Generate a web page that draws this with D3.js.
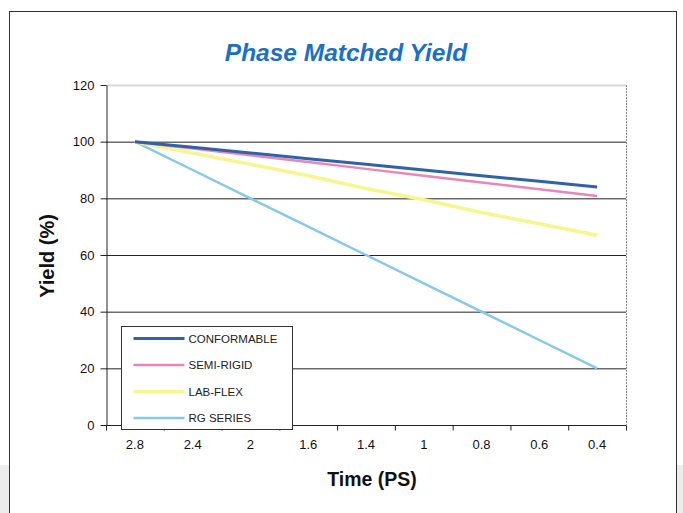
<!DOCTYPE html>
<html>
<head>
<meta charset="utf-8">
<script src="https://cdn.jsdelivr.net/npm/d3@7"></script>
<style>
  body { margin: 0; background: #fff; }
  text { font-family: Arial, "Liberation Sans", sans-serif; }
</style>
</head>
<body>
<svg width="683" height="513"></svg>
<script>
// data
var times = ['2.8', '2.4', '2', '1.6', '1.4', '1', '0.8', '0.6', '0.4'];
var conformable = [100, 98, 96, 94, 92, 90, 88, 86, 84];
var semiRigid = [100, 97.6, 95.2, 92.8, 90.4, 88, 85.6, 83.2, 80.8];
var labFlex = [100, 96, 92, 88, 83.5, 79.5, 75, 71, 67];
var rgSeries = [100, 90, 80, 70, 60, 50, 40, 30, 20];
var yTicks = [0, 20, 40, 60, 80, 100, 120];

var series = [
    {name: 'CONFORMABLE', values: conformable, color: '#2f62a8', width: 3},
    {name: 'SEMI-RIGID', values: semiRigid, color: '#ea86b6', width: 2.5},
    {name: 'LAB-FLEX', values: labFlex, color: '#f7f68e', width: 3.5},
    {name: 'RG SERIES', values: rgSeries, color: '#86c9e8', width: 2.5}
];

var svg = d3.select('svg');
var svgWidth = +svg.attr('width');
var svgHeight = +svg.attr('height');

var plot = {l: 106, r: 626, t: 85, b: 425};

// scan shading at the lower edges
svg.append('rect')
    .attr('x', 0).attr('y', 465).attr('width', 9).attr('height', 48)
    .style('fill', '#ececec');
svg.append('rect')
    .attr('x', 677).attr('y', 465).attr('width', 6).attr('height', 48)
    .style('fill', '#ececec');

// outer frame
svg.append('rect')
    .attr('x', 9.5).attr('y', 11.5)
    .attr('width', 667).attr('height', 510)
    .style('fill', 'none')
    .style('stroke', '#333')
    .style('stroke-width', '1px');

svg.append('text')
    .attr('text-anchor', 'middle')
    .attr('transform', 'translate(' + 346 + ',' + 61 + ')')
    .style('font-size', '24.5px')
    .style('font-weight', 'bold')
    .style('font-style', 'italic')
    .style('fill', '#1b70c6')
    .text('Phase Matched Yield');

var x = d3.scaleBand()
    .domain(times)
    .range([plot.l, plot.r]);

var y = d3.scaleLinear()
    .domain([0, 120])
    .range([plot.b, plot.t]);

// gridlines
svg.append('g')
    .selectAll('line')
    .data(yTicks.filter(function(d){ return d > 0 && d < 120; }))
    .enter()
    .append('line')
    .attr('x1', plot.l).attr('x2', plot.r)
    .attr('y1', function(d){ return y(d) + 0.5; })
    .attr('y2', function(d){ return y(d) + 0.5; })
    .style('stroke', '#222')
    .style('stroke-width', '1px');

// top and right plot border
svg.append('line')
    .attr('x1', plot.l).attr('x2', plot.r)
    .attr('y1', plot.t + 0.5).attr('y2', plot.t + 0.5)
    .style('stroke', '#d8d8d8')
    .style('stroke-width', '2px');
svg.append('line')
    .attr('x1', plot.r + 0.5).attr('x2', plot.r + 0.5)
    .attr('y1', plot.t).attr('y2', plot.b)
    .style('stroke', '#888')
    .style('stroke-dasharray', '2,1')
    .style('stroke-width', '1px');

// y axis
var yAxis = svg.append('g')
    .attr('transform', 'translate(' + (plot.l + 0.5) + ',0)')
    .call(d3.axisLeft(y).tickValues(yTicks).tickSize(6).tickSizeOuter(0));
yAxis.select('.domain').style('stroke', '#222');
yAxis.selectAll('line').style('stroke', '#222');
yAxis.selectAll('text')
    .attr('x', -12)
    .style('font-size', '13px')
    .style('fill', '#111');

// x axis, ticks between categories
var xAxis = svg.append('g')
    .attr('transform', 'translate(0,' + (plot.b + 0.5) + ')');
xAxis.append('line')
    .attr('x1', plot.l).attr('x2', plot.r)
    .style('stroke', '#222');
xAxis.selectAll('.tick')
    .data(times.concat(['end']))
    .enter()
    .append('line')
    .attr('x1', function(d, i){ return plot.l + i * x.bandwidth() + 0.5; })
    .attr('x2', function(d, i){ return plot.l + i * x.bandwidth() + 0.5; })
    .attr('y1', 0).attr('y2', 5)
    .style('stroke', '#222');
xAxis.selectAll('text')
    .data(times)
    .enter()
    .append('text')
    .attr('text-anchor', 'middle')
    .attr('x', function(d){ return x(d) + x.bandwidth() / 2; })
    .attr('y', 23)
    .style('font-size', '13px')
    .style('fill', '#111')
    .text(function(d){ return d; });

// axis titles
svg.append('text')
    .attr('text-anchor', 'middle')
    .attr('transform', 'translate(' + 372 + ',' + 486 + ')')
    .style('font-size', '19.5px')
    .style('font-weight', 'bold')
    .style('fill', '#111')
    .text('Time (PS)');
svg.append('text')
    .attr('text-anchor', 'middle')
    .attr('transform', 'translate(' + 54 + ',' + 256 + ') rotate(-90)')
    .style('font-size', '20px')
    .style('font-weight', 'bold')
    .style('fill', '#111')
    .text('Yield (%)');

// series lines
var line = d3.line()
    .x(function(d, i){ return x(times[i]) + x.bandwidth() / 2; })
    .y(function(d){ return y(d); });

svg.append('g')
    .selectAll('path')
    .data(series.slice().reverse())
    .enter()
    .append('path')
    .attr('d', function(d){ return line(d.values); })
    .style('fill', 'none')
    .style('stroke', function(d){ return d.color; })
    .style('stroke-width', function(d){ return d.width + 'px'; });

// legend
var legend = svg.append('g')
    .attr('transform', 'translate(' + 121.5 + ',' + 326.5 + ')');
legend.append('rect')
    .attr('width', 171).attr('height', 103)
    .style('fill', 'white')
    .style('stroke', '#333')
    .style('stroke-width', '1px');
var entry = legend.selectAll('.entry')
    .data(series)
    .enter()
    .append('g')
    .attr('transform', function(d, i){ return 'translate(0,' + (12 + i * 26.5) + ')'; });
entry.append('line')
    .attr('x1', 12).attr('x2', 63)
    .style('stroke', function(d){ return d.color; })
    .style('stroke-width', function(d){ return d.width + 'px'; });
entry.append('text')
    .attr('x', 67).attr('y', 4)
    .style('font-size', '11.5px')
    .style('fill', '#222')
    .text(function(d){ return d.name; });
</script>
</body>
</html>
